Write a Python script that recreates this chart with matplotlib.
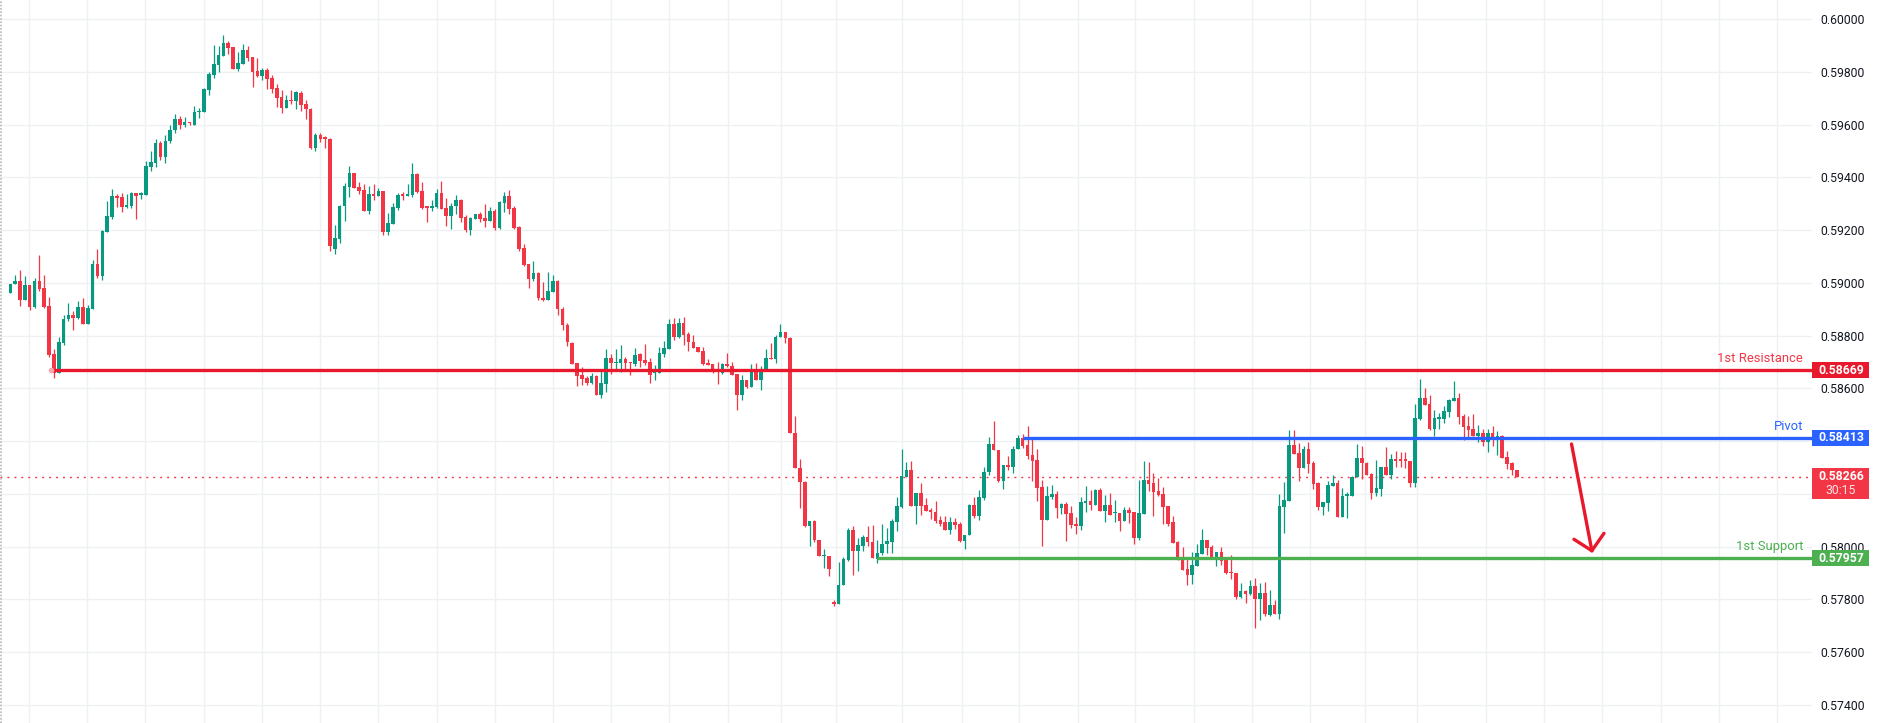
import matplotlib
matplotlib.use("Agg")
import matplotlib.pyplot as plt
from matplotlib.patches import Rectangle
from matplotlib.lines import Line2D
from matplotlib.transforms import blended_transform_factory
import numpy as np

plt.rcParams['font.family'] = ['Roboto', 'DejaVu Sans']

# ---- candle data (prices in 1e-5 units) ----
open_ = [58963,58997,59007,58935,58992,58910,59007,58982,58912,58730,
         58657,58773,58862,58878,58868,58910,58846,58902,59072,59026,
         59194,59251,59330,59326,59289,59293,59341,59335,59335,59441,
         59456,59530,59476,59540,59580,59620,59600,59612,59599,59648,
         59647,59732,59788,59828,59862,59910,59895,59811,59830,59883,
         59855,59804,59786,59807,59777,59739,59705,59665,59694,59691,
         59721,59678,59660,59512,59561,59550,59546,59130,59165,59292,
         59365,59417,59364,59352,59274,59337,59331,59349,59194,59225,
         59285,59334,59331,59334,59413,59349,59290,59285,59288,59341,
         59285,59254,59290,59315,59250,59201,59243,59262,59247,59235,
         59273,59209,59303,59330,59285,59213,59133,59071,59014,59037,
         58942,58937,58967,59008,58900,58840,58773,58696,58651,58639,
         58620,58647,58576,58617,58715,58696,58696,58711,58700,58692,
         58730,58707,58700,58658,58657,58731,58750,58846,58796,58850,
         58805,58778,58757,58742,58696,58692,58667,58658,58694,58687,
         58654,58575,58632,58605,58673,58632,58673,58715,58711,58794,
         58813,58790,58430,58298,58247,58080,58097,58026,57963,57965,
         57789,57784,57853,57950,58064,57985,58004,58037,58018,57952,
         57975,58009,58019,58095,58152,58266,58291,58156,58204,58158,
         58141,58133,58102,58092,58065,58095,58086,58023,58043,58158,
         58118,58186,58282,58390,58366,58251,58310,58304,58370,58412,
         58386,58348,58329,58226,58102,58190,58200,58148,58162,58126,
         58087,58080,58167,58173,58159,58215,58137,58158,58126,58126,
         58099,58139,58131,58034,58125,58253,58241,58211,58200,58154,
         58094,58018,57958,57915,57894,57928,57973,58025,57999,57957,
         57980,57952,57904,57900,57810,57832,57822,57851,57803,57824,
         57741,57779,57745,58152,58175,58386,58356,58300,58371,58318,
         58242,58152,58167,58232,58242,58114,58192,58192,58264,58337,
         58318,58277,58205,58220,58302,58273,58333,58329,58329,58325,
         58243,58484,58564,58541,58447,58486,58486,58512,58554,58564,
         58496,58458,58447,58420,58431,58397,58431,58416,58420,58339,
         58318,58291]
high = [58998,59030,59049,59026,58992,59017,59106,59030,58947,58749,
        58795,58880,58924,58895,58931,58943,58916,59087,59129,59201,
        59311,59356,59337,59343,59337,59346,59341,59346,59462,59500,
        59545,59540,59560,59600,59640,59635,59630,59612,59671,59663,
        59739,59801,59903,59897,59940,59919,59895,59876,59906,59900,
        59855,59853,59814,59814,59790,59754,59732,59711,59732,59728,
        59728,59694,59663,59570,59570,59557,59550,59220,59295,59378,
        59445,59417,59381,59374,59369,59375,59359,59349,59266,59303,
        59341,59344,59376,59455,59417,59383,59292,59315,59357,59387,
        59323,59303,59334,59319,59258,59250,59262,59269,59300,59288,
        59281,59311,59345,59353,59292,59216,59148,59071,59084,59043,
        59003,59042,59030,59010,58910,58850,58776,58696,58681,58647,
        58658,58651,58670,58749,58730,58749,58766,58719,58700,58753,
        58734,58768,58715,58689,58757,58779,58863,58868,58868,58870,
        58816,58801,58759,58757,58711,58692,58700,58697,58734,58700,
        58654,58651,58632,58692,58697,58685,58750,58772,58803,58845,
        58816,58794,58496,58332,58251,58097,58102,58026,57992,57965,
        57798,57942,57961,58070,58080,58032,58045,58078,58083,58024,
        58086,58071,58105,58190,58370,58323,58325,58204,58242,58184,
        58146,58174,58117,58117,58113,58110,58092,58043,58162,58189,
        58215,58304,58416,58477,58366,58310,58344,58382,58423,58427,
        58458,58415,58370,58253,58230,58234,58211,58166,58169,58154,
        58114,58188,58230,58215,58220,58222,58196,58204,58177,58129,
        58152,58150,58133,58253,58325,58321,58279,58259,58225,58154,
        58116,58021,57999,57952,57980,58009,58067,58025,58006,57980,
        57999,57952,57968,57900,57862,57836,57874,57881,57864,57866,
        57836,57798,58200,58246,58443,58443,58393,58380,58397,58325,
        58246,58170,58249,58272,58253,58224,58209,58268,58390,58382,
        58321,58281,58329,58302,58378,58352,58363,58359,58359,58325,
        58541,58636,58602,58575,58519,58507,58534,58560,58629,58583,
        58503,58496,58503,58462,58447,58447,58458,58439,58424,58363,
        58321,58291]
low = [58963,58997,58914,58935,58897,58906,58971,58906,58718,58641,
       58657,58766,58857,58821,58862,58846,58846,58902,59019,59012,
       59194,59241,59289,59270,59285,59285,59242,59320,59335,59426,
       59440,59466,59456,59530,59570,59585,59590,59600,59599,59625,
       59647,59713,59778,59800,59862,59869,59811,59804,59830,59843,
       59744,59782,59769,59735,59721,59668,59646,59665,59678,59660,
       59653,59622,59508,59500,59533,59513,59120,59110,59150,59235,
       59327,59361,59336,59274,59263,59314,59331,59182,59183,59225,
       59278,59315,59328,59326,59341,59281,59232,59273,59285,59282,
       59216,59205,59262,59232,59194,59183,59243,59232,59212,59235,
       59199,59205,59269,59262,59206,59121,59065,58982,59008,58934,
       58933,58937,58967,58880,58820,58760,58694,58610,58614,58612,
       58617,58576,58565,58586,58654,58670,58662,58666,58651,58685,
       58681,58689,58622,58632,58657,58720,58750,58785,58791,58766,
       58743,58754,58738,58689,58689,58658,58617,58654,58681,58651,
       58518,58556,58601,58605,58632,58594,58673,58712,58698,58794,
       58772,58430,58298,58148,58074,58004,58017,57963,57921,57889,
       57777,57784,57853,57946,57891,57906,57982,58004,57958,57940,
       57969,57978,57975,58059,58146,58266,58156,58086,58122,58137,
       58104,58090,58080,58065,58047,58069,58018,57990,58043,58107,
       58103,58176,58271,58366,58246,58217,58289,58281,58370,58373,
       58332,58250,58174,58004,58102,58180,58110,58125,58023,58072,
       58049,58064,58133,58140,58159,58137,58095,58121,58095,58061,
       58096,58091,58011,58027,58125,58211,58118,58192,58087,58080,
       58015,57949,57912,57856,57860,57928,57973,57968,57952,57928,
       57931,57896,57877,57800,57805,57785,57817,57690,57721,57738,
       57737,57745,57726,58053,58175,58353,58251,58300,58280,58220,
       58141,58122,58137,58232,58114,58114,58110,58192,58264,58258,
       58273,58182,58194,58194,58273,58258,58304,58304,58300,58228,
       58228,58481,58538,58443,58420,58447,58469,58492,58554,58465,
       58405,58412,58420,58397,58382,58359,58382,58348,58338,58296,
       58270,58266]
close = [58998,59007,58935,58992,58910,59007,58978,58910,58728,58657,
         58776,58863,58878,58868,58910,58846,58905,59072,59026,59197,
         59254,59330,59323,59289,59295,59341,59331,59337,59443,59458,
         59530,59476,59540,59580,59620,59600,59612,59605,59648,59653,
         59735,59792,59831,59864,59910,59892,59811,59834,59883,59854,
         59801,59785,59807,59773,59735,59703,59665,59695,59690,59723,
         59675,59658,59512,59561,59546,59547,59140,59170,59292,59369,
         59417,59361,59349,59274,59338,59330,59349,59194,59228,59288,
         59334,59331,59338,59413,59345,59285,59286,59293,59341,59282,
         59254,59292,59315,59247,59201,59247,59262,59243,59235,59273,
         59209,59307,59330,59281,59209,59129,59068,59014,59037,58942,
         58936,58970,59008,58900,58840,58775,58694,58648,58637,58622,
         58647,58576,58620,58715,58696,58700,58711,58696,58697,58726,
         58704,58696,58651,58661,58734,58753,58846,58796,58850,58804,
         58777,58754,58738,58692,58689,58662,58664,58694,58685,58651,
         58575,58632,58605,58673,58632,58673,58715,58712,58794,58813,
         58790,58430,58298,58247,58080,58097,58026,57963,57965,57917,
         57784,57855,57954,58064,57985,58007,58037,58016,57958,57975,
         58011,58023,58098,58155,58268,58291,58156,58204,58156,58137,
         58131,58099,58086,58065,58095,58084,58023,58043,58158,58118,
         58189,58282,58390,58366,58251,58310,58304,58371,58412,58383,
         58344,58326,58224,58102,58192,58200,58148,58162,58125,58083,
         58080,58169,58173,58158,58215,58137,58158,58121,58129,58099,
         58139,58129,58034,58128,58253,58239,58207,58196,58152,58087,
         58015,57949,57912,57894,57930,57976,58025,57996,57957,57980,
         57946,57900,57901,57810,57832,57822,57851,57803,57824,57743,
         57779,57745,58155,58177,58386,58353,58300,58371,58315,58239,
         58152,58170,58234,58242,58114,58192,58200,58264,58337,58316,
         58273,58205,58223,58302,58273,58333,58326,58326,58326,58243,
         58488,58564,58538,58447,58488,58488,58515,58557,58564,58492,
         58454,58443,58420,58431,58397,58431,58416,58420,58338,58315,
         58289,58266]

# ---- levels ----
y_ticks = [0.574, 0.576, 0.578, 0.580, 0.582, 0.584, 0.586, 0.588,
           0.590, 0.592, 0.594, 0.596, 0.598, 0.600]
hidden_ticks = [0.582, 0.584]   # covered by the price boxes
resistance = 0.58669
pivot = 0.58413
support = 0.57957
last_price = 0.58266
countdown = "30:15"
level_names = ["1st Resistance", "Pivot", "1st Support"]

# ---- styling / layout ----
W, H = 1880, 723
plot_right_px = 1812
x0_px, step_px = 10.3, 4.844
y_top, y_bot = 0.60073, 0.573315
UP, DOWN = '#089981', '#f23645'
RED, BLUE, GREEN = '#e8192c', '#2962ff', '#4caf50'
GRID = '#eef0f3'
grid_x = [3.9, 15.9, 27.9, 40.05, 52.0, 64.0, 76.0, 88.1, 100.1, 112.1,
          124.1, 136.0, 148.2, 159.2, 170.4, 184.1, 196.4, 208.3, 220.4,
          232.2, 244.4, 256.4, 268.4, 279.6, 290.5, 304.6, 316.6, 328.5,
          340.7, 352.7, 364.7]

o = np.array(open_) / 1e5
h = np.array(high) / 1e5
l = np.array(low) / 1e5
c = np.array(close) / 1e5
n = len(c)
idx = np.arange(n)

fig = plt.figure(figsize=(W / 100, H / 100), dpi=100)
fig.patch.set_facecolor('white')
ax = fig.add_axes([0, 0, plot_right_px / W, 1])
ax.set_facecolor('white')
x_left = -x0_px / step_px
x_right = (plot_right_px - x0_px) / step_px
ax.set_xlim(x_left, x_right)
ax.set_ylim(y_bot, y_top)
for s in ax.spines.values():
    s.set_visible(False)

# grid
for yv in y_ticks:
    ax.axhline(yv, color=GRID, lw=1, zorder=0)
for xv in grid_x:
    ax.axvline(xv, color=GRID, lw=1, zorder=0)

# candles
up = c >= o
colors = np.where(up, UP, DOWN)
px_price = (y_top - y_bot) / H
ax.vlines(idx, l, h, colors=colors, lw=0.9, zorder=2)
body_bot = np.minimum(o, c)
body_h = np.maximum(np.abs(c - o), 1.3 * px_price)
ax.bar(idx, body_h, bottom=body_bot, width=0.74, color=colors,
       edgecolor='none', linewidth=0, zorder=3)

# levels
ax.axhline(last_price, color=DOWN, lw=1, ls=(0, (1.4, 3.6)), zorder=1)
res_start, piv_start, sup_start = 8.5, 209.0, 178.9
ax.hlines(resistance, res_start, x_right, color=RED, lw=2.4, zorder=4)
ax.hlines(pivot, piv_start, x_right, color=BLUE, lw=2.4, zorder=4)
ax.hlines(support, sup_start, x_right, color=GREEN, lw=2.4, zorder=4)
ax.plot([res_start], [resistance], 'o', ms=4, mfc='#f7a8b0', mec='none', zorder=5)

# level names above lines
xt = (plot_right_px - 9) / plot_right_px
blend_ax = blended_transform_factory(ax.transAxes, ax.transData)
for name, lv, col in zip(level_names, [resistance, pivot, support],
                         ['#f23645', BLUE, GREEN]):
    ax.annotate(name, xy=(xt, lv), xycoords=blend_ax, xytext=(0, 8.3),
                textcoords='offset points', ha='right', va='center',
                fontsize=9.4, color=col)

# arrow (hand drawn style)
arrow_shaft = ([322.3, 326.5], [0.583894, 0.579848])
arrow_left = ([322.8, 326.5], [0.580281, 0.579848])
arrow_right = ([329.0, 326.5], [0.580508, 0.579848])
for xs, ys in (arrow_shaft, arrow_left, arrow_right):
    ax.plot(xs, ys, color=RED, lw=2.4, solid_capstyle='round', zorder=6)

# right price scale
ax.set_xticks([])
ax.yaxis.tick_right()
ax.set_yticks(y_ticks)
ax.set_yticklabels(["" if any(abs(v - hv) < 1e-9 for hv in hidden_ticks)
                    else f"{v:.5f}" for v in y_ticks])
ax.tick_params(axis='y', length=0, pad=6.0, labelsize=8.8, labelcolor='#131722')

# price label boxes
blend_fig = blended_transform_factory(fig.transFigure, ax.transData)
bx0 = plot_right_px / W
bw = 57 / W
bh = 16 * px_price
cx = bx0 + 29 / W
for lv, col in [(resistance, RED), (pivot, BLUE), (support, GREEN)]:
    fig.add_artist(Rectangle((bx0, lv - bh / 2), bw, bh, transform=blend_fig,
                             facecolor=col, edgecolor='none', zorder=10))
    fig.text(cx, lv, f"{lv:.5f}", transform=blend_fig, ha='center',
             va='center', color='white', fontsize=8.8, fontweight='bold', zorder=11)
# last price box
top = last_price + 8.3 * px_price
hgt = 30.5 * px_price
fig.add_artist(Rectangle((bx0, top - hgt), bw, hgt, transform=blend_fig,
                         facecolor=DOWN, edgecolor='none', zorder=10))
fig.text(cx, last_price, f"{last_price:.5f}", transform=blend_fig,
         ha='center', va='center', color='white', fontsize=8.8,
         fontweight='bold', zorder=11)
fig.text(cx, last_price - 14.3 * px_price, countdown, transform=blend_fig,
         ha='center', va='center', color='#fde2e5', fontsize=8.8, zorder=11)

# left border
fig.add_artist(Line2D([0.8 / W, 0.8 / W], [0, 1], transform=fig.transFigure,
                      color='#b8b8b8', lw=1.2, ls=(0, (1, 1))))

fig.savefig('out.png', dpi=100, facecolor='white')
